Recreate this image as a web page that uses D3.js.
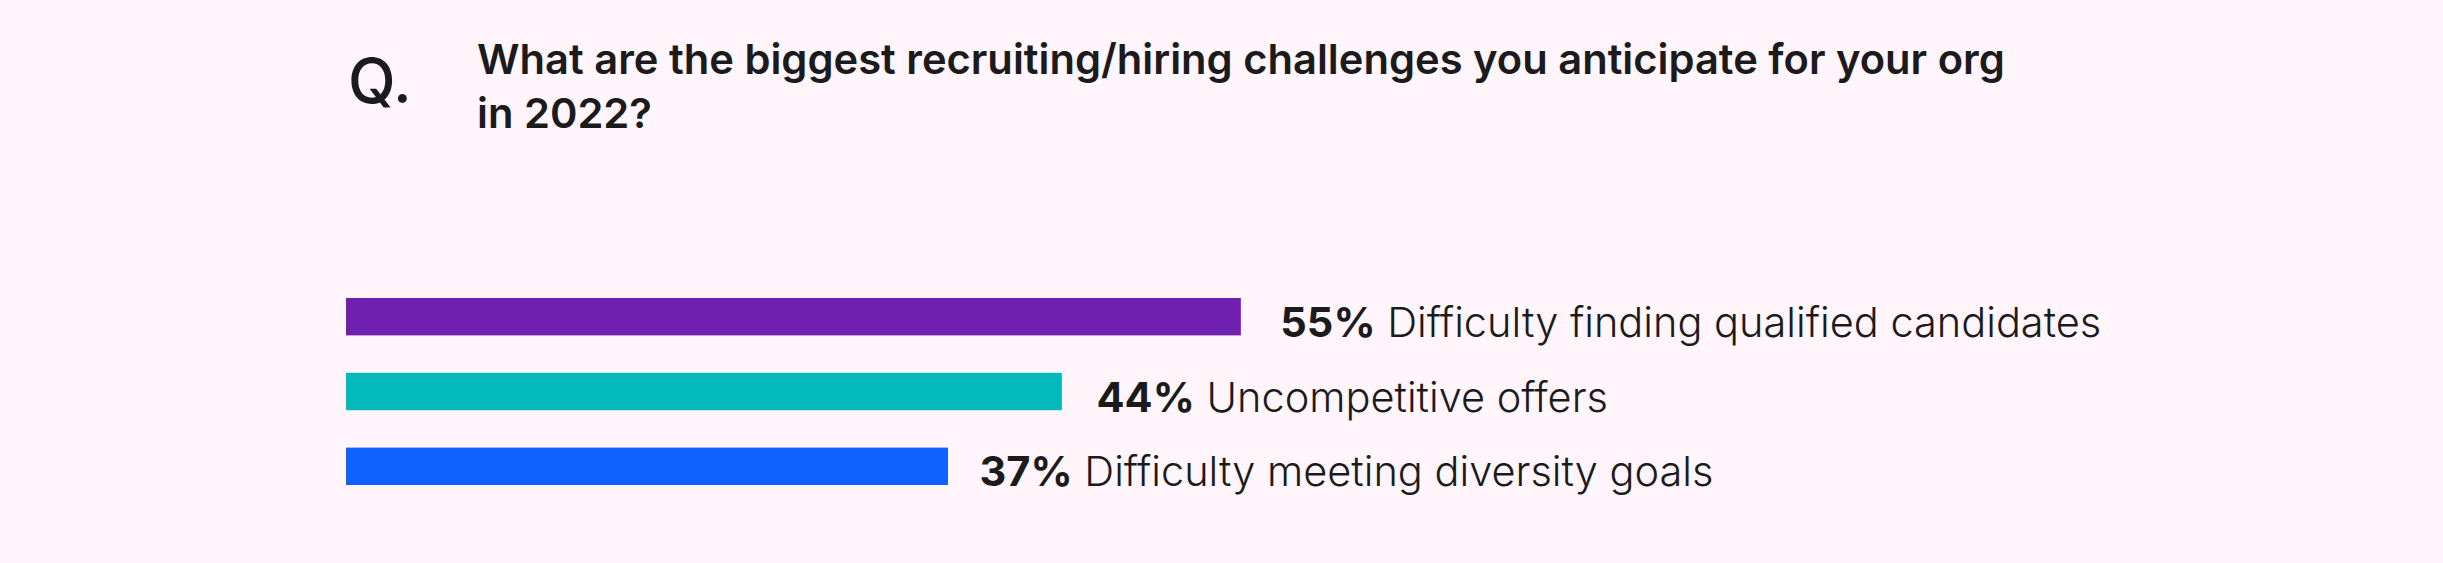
<!DOCTYPE html>
<html>
<head>
<meta charset="utf-8">
<script src="https://cdn.jsdelivr.net/npm/d3@7"></script>
<style>
  html, body { margin: 0; padding: 0; background: #FFF5FA; }
  svg { display: block; }
</style>
</head>
<body>
<svg id="chart" width="2443" height="563"></svg>
<script>
const titleLines = ["What are the biggest recruiting/hiring challenges you anticipate for your org", "in 2022?"];
const categories = ["Difficulty finding qualified candidates", "Uncompetitive offers", "Difficulty meeting diversity goals"];
const values = [55, 44, 37];
const colors = ["#7020AE", "#03B9BB", "#0F62FE"];

const svg = d3.select("#chart");
svg.append("rect").attr("width", 2443).attr("height", 563).attr("fill", "#FFF5FA");

const font = "Inter, 'Noto Sans', sans-serif";
const ink = "#1b1b1d";

svg.append("text")
  .attr("x", 348).attr("y", 103)
  .attr("font-family", font).attr("font-size", 62).attr("font-weight", 500)
  .attr("fill", ink).text("Q.");

const title = svg.append("text")
  .attr("font-family", font).attr("font-size", 41.7).attr("font-weight", 600)
  .attr("fill", ink);
titleLines.forEach((t, i) => {
  title.append("tspan").attr("x", 477).attr("y", 74 + i * 54).text(t);
});

const x = d3.scaleLinear().domain([0, 100]).range([346, 346 + 1627]);
const y = d3.scaleBand().domain(categories).range([298, 485]).paddingInner(0.5).paddingOuter(0);

const data = categories.map((c, i) => ({ c, v: values[i], color: colors[i] }));

svg.selectAll("rect.bar").data(data).join("rect")
  .attr("class", "bar")
  .attr("x", x(0))
  .attr("y", d => y(d.c))
  .attr("width", d => x(d.v) - x(0))
  .attr("height", y.bandwidth())
  .attr("fill", d => d.color);

const labels = svg.selectAll("text.lab").data(data).join("text")
  .attr("class", "lab")
  .attr("x", d => 1.027 * x(d.v) + 6)
  .attr("y", d => y(d.c) + y.bandwidth() / 2 + 20)
  .attr("font-family", font).attr("font-size", 41.5)
  .attr("fill", ink);
labels.append("tspan").attr("font-weight", 700).text(d => d.v + "%");
labels.append("tspan").attr("font-weight", 300).text(d => " " + d.c);
</script>
</body>
</html>
